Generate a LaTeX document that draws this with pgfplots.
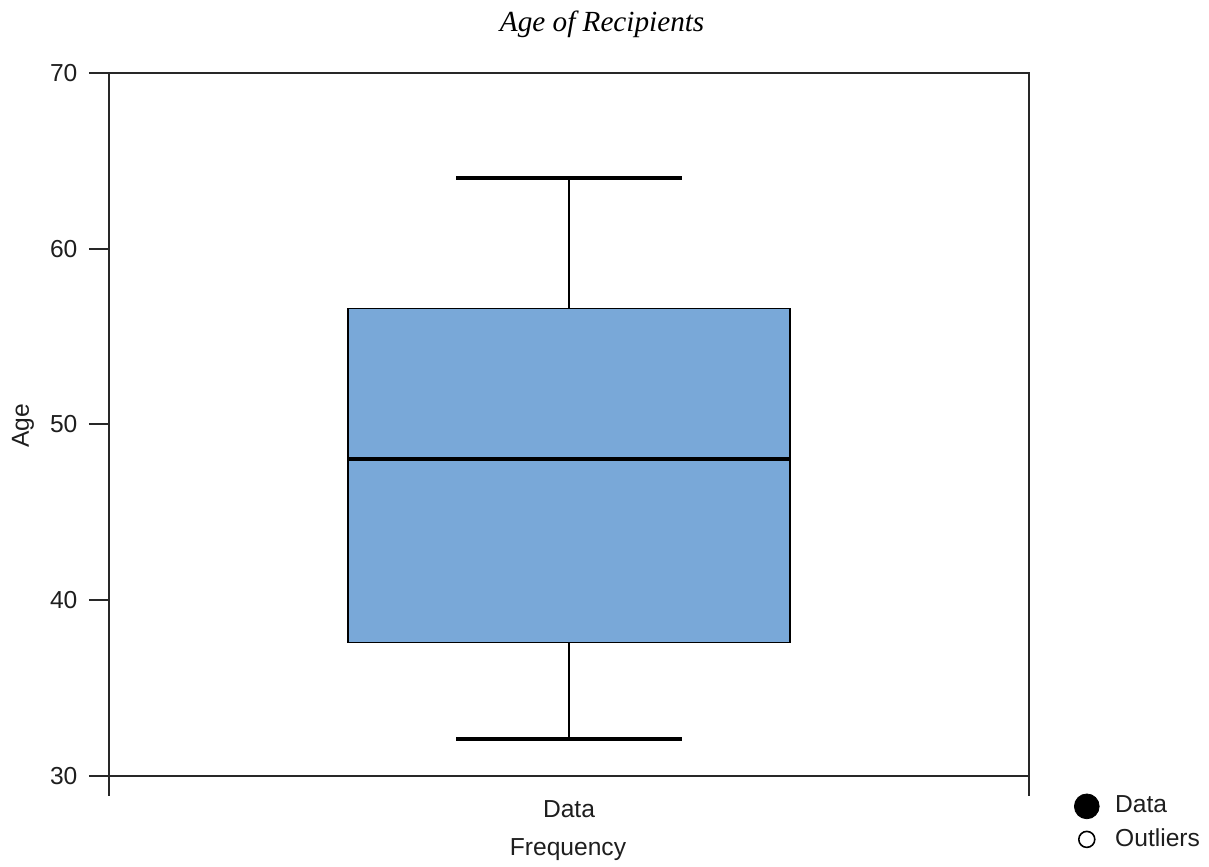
\documentclass[border=0pt]{standalone}
\usepackage{pgfplots}
\pgfplotsset{compat=1.18}
\usepackage{fontspec}
\setmainfont{Liberation Sans}
\newfontfamily\titlefont{Liberation Serif}
\definecolor{boxblue}{RGB}{121,168,216}
\definecolor{axisgray}{RGB}{40,40,40}
\definecolor{txtgray}{RGB}{30,30,30}
\newcommand\fs{\fontsize{12.3bp}{14.5bp}\selectfont}
\begin{document}
\fs
\begin{tikzpicture}
\useasboundingbox (0,0) rectangle (604.5bp,433.5bp);
\begin{axis}[
  at={(54.5bp,45.5bp)}, anchor=south west,
  scale only axis, width=460bp, height=351.5bp,
  xmin=0, xmax=2, ymin=30, ymax=70,
  axis line style={draw=axisgray, line width=1bp},
  tick style={draw=axisgray, line width=1bp},
  tick align=outside, major tick length=10bp,
  xtick pos=lower, ytick pos=left,
  xtick={0,2}, xticklabels={,},
  extra x ticks={1}, extra x tick labels={Data},
  extra x tick style={major tick length=0pt, tick style={draw=none},
    xticklabel style={yshift=-8bp}},
  ytick={30,40,50,60,70},
  yticklabel style={xshift=-1.5bp},
  /pgf/number format/assume math mode=true,
  tick label style={font=\fs, text=txtgray},
  title={\titlefont\itshape Age of Recipients},
  every axis title/.style={at={(axis description cs:0.536,1.0597)}, anchor=base, font=\fontsize{14.6bp}{17bp}\selectfont},
  xlabel={Frequency},
  xlabel style={at={(axis description cs:0.4989,-0.1124)}, anchor=base, font=\fs, text=txtgray},
  ylabel={Age},
  ylabel style={at={(axis description cs:-0.087,0.4985)}, anchor=base, font=\fs, text=txtgray},
  legend style={at={(axis description cs:1.0489,-0.067)}, anchor=west, draw=none, fill=none, inner sep=0pt,
    font=\fs, text=txtgray, row sep=2bp, cells={anchor=west}},
  legend cell align=left,
  every axis legend/.append style={/tikz/every odd column/.style={column sep=6bp}},
]
% whisker stems
\addplot[black, line width=0.9bp, forget plot] coordinates {(1,32.1) (1,37.6)};
\addplot[black, line width=0.9bp, forget plot] coordinates {(1,56.6) (1,64.05)};
% box (Q1 = 37.6, Q3 = 56.6)
\addplot[draw=black, fill=boxblue, line width=0.9bp, forget plot]
  coordinates {(0.519,37.6) (1.481,37.6) (1.481,56.6) (0.519,56.6)} --cycle;
% median
\addplot[black, line width=2bp, forget plot] coordinates {(0.519,48.05) (1.481,48.05)};
% whisker caps
\addplot[black, line width=2bp, forget plot] coordinates {(0.755,32.1) (1.245,32.1)};
\addplot[black, line width=2bp, forget plot] coordinates {(0.755,64.05) (1.245,64.05)};
\addlegendimage{only marks, mark=*, mark size=6.2bp, black}
\addlegendentry{Data}
\addlegendimage{only marks, mark=o, mark size=4bp, black, mark options={line width=0.8bp}}
\addlegendentry{Outliers}
\end{axis}
\end{tikzpicture}
\end{document}
